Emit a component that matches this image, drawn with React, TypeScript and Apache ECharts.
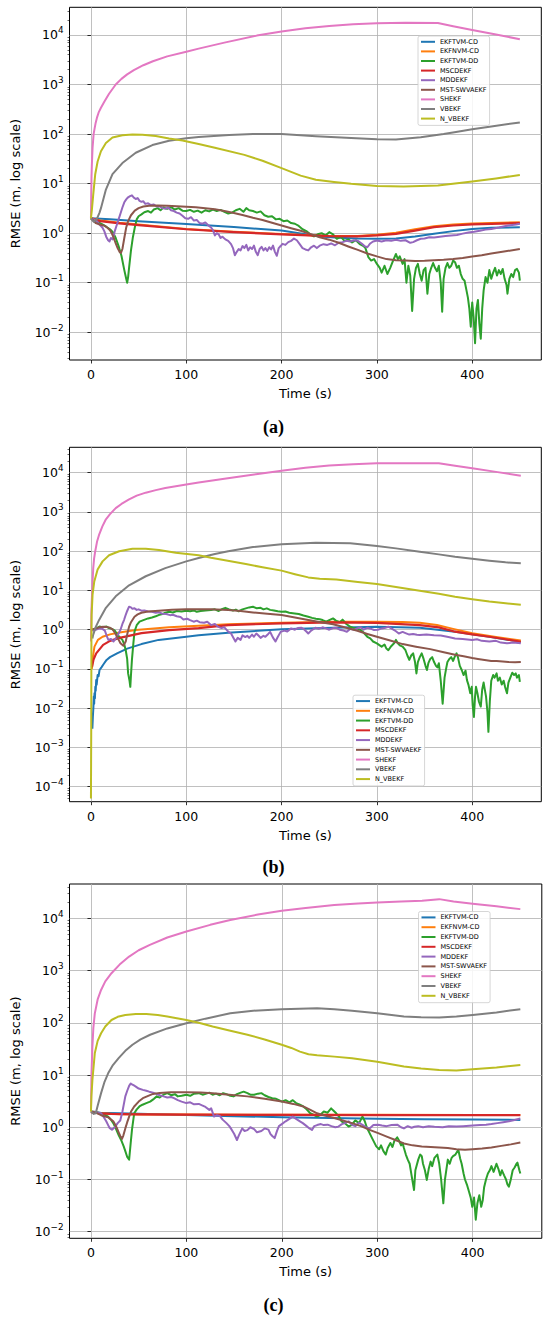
import React, { useEffect, useRef } from 'react';
import * as echarts from 'echarts';

// ---------- names, colours, ticks ----------
const SERIES_NAMES = ['EKFTVM-CD', 'EKFNVM-CD', 'EKFTVM-DD', 'MSCDEKF', 'MDDEKF', 'MST-SWVAEKF', 'SHEKF', 'VBEKF', 'N_VBEKF'];
const SERIES_COLORS = ['#1f77b4', '#ff7f0e', '#2ca02c', '#d62728', '#9467bd', '#8c564b', '#e377c2', '#7f7f7f', '#bcbd22'];
const X_TICKS = [0, 100, 200, 300, 400];
const Y_DECADES_A = [-2, -1, 0, 1, 2, 3, 4];
const Y_DECADES_B = [-4, -3, -2, -1, 0, 1, 2, 3, 4];
const Y_DECADES_C = [-2, -1, 0, 1, 2, 3, 4];
const CAPTIONS = ['(a)', '(b)', '(c)'];

type P = [number, number][];

// ---------- panel (a) ----------
const a_EKFTVM_CD: P = [[0,2.0],[20,1.9],[50,1.75],[100,1.54],[150,1.33],[200,1.13],[220,0.99],[240,0.86],[260,0.81],[280,0.78],[300,0.77],[320,0.78],[340,0.86],[360,0.97],[380,1.1],[400,1.22],[420,1.28],[450,1.32]];
const a_EKFNVM_CD: P = [[0,2.0],[10,1.8],[30,1.62],[50,1.5],[100,1.22],[150,1.07],[200,0.96],[250,0.88],[280,0.88],[300,0.93],[320,1.02],[340,1.2],[360,1.38],[380,1.5],[400,1.57],[420,1.61],[450,1.66]];
const a_EKFTVM_DD: P = [[0,2.0],[4,1.8],[8,1.65],[12,1.5],[16,1.35],[20,1.2],[23,1.05],[26,0.8],[29,0.55],[32,0.35],[35,0.18],[37,0.12],[38,0.1],[39,0.13],[40,0.2],[42,0.45],[44,0.83],[46,1.3],[48,1.9],[50,2.2],[53,2.4],[56,2.65],[60,2.8],[63,2.6],[66,3.0],[70,3.2],[73,2.9],[76,3.3],[80,3.1],[84,3.35],[88,3.0],[92,3.2],[96,2.85],[100,2.8],[104,2.95],[108,2.7],[112,2.85],[116,2.6],[120,2.9],[124,2.75],[128,3.0],[132,2.8],[136,2.95],[140,2.7],[144,2.5],[148,2.6],[152,2.9],[156,3.1],[160,2.7],[163,3.2],[166,2.9],[170,2.8],[174,2.6],[178,2.75],[182,2.3],[186,2.15],[190,2.2],[194,1.9],[198,1.95],[202,1.75],[206,1.8],[210,1.6],[214,1.55],[218,1.4],[222,1.2],[226,1.1],[230,0.95],[234,0.86],[238,0.95],[242,1.0],[246,0.9],[250,1.05],[254,0.95],[258,0.77],[262,0.85],[266,0.7],[270,0.75],[274,0.65],[278,0.72],[282,0.6],[286,0.55],[288,0.5],[291,0.33],[294,0.28],[297,0.3],[300,0.24],[303,0.2],[305,0.16],[308,0.22],[311,0.15],[314,0.2],[317,0.28],[320,0.38],[322,0.3],[324,0.34],[327,0.24],[329,0.3],[331,0.1],[333,0.22],[335,0.14],[337,0.027],[339,0.12],[341,0.2],[343,0.24],[345,0.15],[347,0.11],[349,0.18],[351,0.2],[353,0.06],[355,0.15],[357,0.2],[359,0.25],[361,0.2],[363,0.17],[365,0.22],[367,0.1],[368.5,0.026],[370,0.12],[372,0.2],[374,0.25],[376,0.2],[378,0.22],[380,0.28],[382,0.26],[384,0.2],[386,0.22],[388,0.15],[390,0.12],[392,0.11],[394,0.07],[395.5,0.05],[397,0.03],[398.5,0.013],[400,0.04],[401.5,0.02],[403,0.006],[404.5,0.03],[406,0.045],[407.5,0.015],[409,0.0074],[410.5,0.03],[412,0.07],[414,0.13],[416,0.1],[418,0.18],[420,0.12],[422,0.16],[424,0.2],[426,0.14],[428,0.18],[430,0.15],[432,0.19],[434,0.12],[436,0.09],[437,0.06],[439,0.12],[441,0.15],[443,0.13],[445,0.18],[447,0.19],[449,0.16],[450,0.11]];
const a_MSCDEKF: P = [[0,2.0],[10,1.75],[30,1.58],[50,1.45],[100,1.2],[150,1.05],[200,0.95],[250,0.87],[280,0.86],[300,0.9],[320,0.97],[340,1.13],[360,1.32],[380,1.43],[400,1.5],[420,1.54],[450,1.6]];
const a_MDDEKF: P = [[0,2.0],[3,1.9],[6,1.75],[9,1.5],[12,1.3],[14,1.1],[16,0.85],[18,0.72],[19.5,0.68],[21,0.8],[23,0.75],[25,1.1],[27,1.45],[29,1.9],[31,2.5],[33,3.3],[35,4.2],[37,4.8],[39,5.3],[41,5.6],[43,5.8],[45,5.2],[47,4.9],[49,5.1],[51,4.5],[53,4.3],[55,4.4],[57,3.9],[60,4.0],[63,3.7],[66,3.8],[69,3.45],[72,3.5],[75,3.2],[78,3.1],[81,3.3],[84,2.9],[87,2.8],[90,2.6],[93,2.5],[96,2.25],[99,2.0],[102,1.95],[105,2.1],[108,1.8],[111,1.85],[114,1.6],[117,1.55],[120,1.65],[123,1.45],[126,1.3],[128,1.15],[130,0.9],[132,1.0],[134,0.95],[136,0.8],[138,0.85],[141,0.75],[144,0.7],[147,0.6],[149,0.5],[151,0.36],[153,0.42],[155,0.48],[157,0.45],[159,0.55],[161,0.5],[163,0.58],[165,0.45],[167,0.52],[169,0.48],[171,0.56],[173,0.42],[175,0.36],[177,0.48],[179,0.53],[181,0.45],[183,0.5],[185,0.44],[187,0.52],[189,0.47],[191,0.56],[193,0.42],[195,0.35],[197,0.5],[199,0.55],[201,0.61],[204,0.58],[207,0.66],[210,0.7],[213,0.78],[216,0.72],[219,0.6],[222,0.5],[225,0.47],[228,0.45],[231,0.52],[234,0.56],[237,0.5],[240,0.56],[244,0.6],[248,0.58],[252,0.62],[256,0.57],[260,0.64],[264,0.66],[268,0.7],[272,0.68],[276,0.72],[280,0.7],[284,0.62],[287,0.55],[290,0.52],[293,0.62],[296,0.68],[300,0.71],[305,0.68],[310,0.72],[315,0.7],[320,0.74],[325,0.7],[330,0.72],[335,0.64],[338,0.66],[342,0.72],[346,0.77],[350,0.78],[355,0.83],[360,0.82],[366,0.85],[372,0.88],[378,0.9],[384,0.92],[390,0.98],[396,1.03],[402,1.07],[408,1.12],[414,1.18],[420,1.22],[428,1.3],[434,1.38],[440,1.45],[446,1.5],[450,1.55]];
const a_MST_SWVAEKF: P = [[0,2.0],[5,1.6],[10,1.48],[14,1.42],[17,1.3],[20,1.15],[22,0.98],[24,0.8],[26,0.62],[28,0.5],[30,0.42],[31.5,0.4],[33,0.48],[35,0.8],[37,1.3],[39,1.75],[42,2.3],[46,2.85],[50,3.2],[55,3.45],[61,3.56],[70,3.6],[80,3.58],[90,3.5],[100,3.42],[110,3.33],[120,3.2],[130,3.05],[140,2.8],[150,2.55],[160,2.3],[170,2.05],[180,1.85],[190,1.62],[200,1.43],[210,1.26],[220,1.12],[230,0.97],[240,0.83],[250,0.74],[260,0.64],[270,0.54],[280,0.46],[290,0.39],[300,0.34],[310,0.3],[320,0.285],[330,0.28],[340,0.275],[350,0.277],[360,0.285],[370,0.29],[380,0.3],[390,0.315],[400,0.34],[410,0.36],[420,0.39],[435,0.43],[450,0.48]];
const a_SHEKF: P = [[0,2],[0.3,6],[0.6,14],[1,25],[1.7,53],[2.8,100],[4,135],[5,170],[6.5,220],[8,270],[10.5,340],[14,450],[19,650],[26,1000],[32,1300],[38,1600],[45,1950],[55,2450],[65,2950],[80,3700],[100,4600],[113,5300],[140,7000],[174,9700],[200,11800],[225,13600],[250,15200],[275,16400],[300,17200],[330,17600],[364,17400],[380,15000],[400,12600],[425,10200],[450,8200]];
const a_VBEKF: P = [[0,2.0],[3,1.7],[6,1.9],[9,2.6],[10.5,3.2],[15.7,7.6],[22.6,15.5],[33,26],[47,42],[64.5,60],[82,73],[100,82],[113,87],[145,96],[170,100],[200,100],[236,90],[273,83],[300,79],[320,78],[346,86],[370,100],[383,110],[400,125],[420,142],[450,172]];
const a_N_VBEKF: P = [[0,2],[1,3],[2.4,6],[4.5,15.5],[7,28],[10.5,45],[15.7,66],[22.6,85],[33,95],[43.5,98],[54,97],[68,91],[82,81],[96,74],[113,63],[130,53],[161,38],[180,29],[200,20.5],[220,14.5],[236,12],[255,10.8],[273,9.9],[300,9.0],[328,8.7],[364,9.2],[400,11],[425,12.7],[450,15]];

// ---------- panel (b) ----------
const b_EKFTVM_CD: P = [[1.5,0.003],[2,0.006],[2.6,0.011],[3,0.02],[3.4,0.013],[3.7,0.024],[4.2,0.018],[4.6,0.035],[5,0.028],[5.5,0.052],[6,0.04],[7,0.07],[8,0.065],[9,0.094],[11,0.11],[13,0.13],[16.4,0.17],[20,0.2],[27.4,0.25],[38,0.33],[53,0.43],[71,0.55],[100,0.66],[113,0.72],[144,0.84],[200,1.02],[254,1.12],[300,1.19],[345,1.12],[382,0.89],[418,0.66],[451,0.49]];
const b_EKFNVM_CD: P = [[1,0.1],[2,0.2],[3.7,0.37],[7.3,0.55],[12.2,0.66],[20,0.76],[30,0.85],[47,0.98],[82,1.15],[113,1.26],[144,1.37],[200,1.5],[254,1.6],[300,1.6],[327,1.58],[345,1.5],[363,1.31],[380,1.05],[400,0.81],[425,0.65],[451,0.53]];
const b_EKFTVM_DD: P = [[2,1.0],[3.7,1.05],[6,1.1],[9,1.2],[12,1.15],[16.4,1.2],[19,1.1],[22,1.05],[25,0.95],[27,0.8],[30,0.65],[33,0.55],[35,0.42],[36.5,0.3],[38,0.18],[39,0.077],[40.5,0.05],[41.3,0.035],[42,0.07],[43,0.17],[44.5,0.45],[45.7,0.89],[48,1.3],[51,1.6],[55,1.75],[60,1.94],[64,2.05],[68,2.2],[71,2.36],[75,2.5],[78,2.7],[82,2.87],[86,2.75],[90,3.0],[95,2.9],[100,3.05],[104,2.95],[108,3.1],[111,2.85],[115,3.0],[120,3.1],[126,3.17],[130,3.3],[134,3.0],[138,3.4],[141,3.6],[145,3.3],[149,3.1],[152,3.25],[155,2.95],[159,3.3],[162.5,3.5],[166,3.7],[170,3.85],[174,3.5],[178,3.6],[181,3.3],[184.5,3.5],[188,3.2],[192,3.1],[196,2.95],[200,2.87],[204,2.9],[208,2.7],[213.7,2.6],[218,2.5],[223,2.3],[228,2.14],[232,2.0],[236,1.9],[240,1.85],[243,1.76],[247,1.6],[250,1.75],[254,1.94],[257,1.7],[261,1.55],[264,1.8],[268,1.4],[272,1.19],[276,1.1],[280,1.05],[283,0.98],[286,0.85],[290,0.66],[293,0.6],[296,0.5],[300,0.45],[303,0.4],[305,0.37],[308,0.42],[310,0.33],[312,0.3],[315,0.38],[318,0.45],[320,0.55],[322,0.45],[324,0.4],[327,0.37],[330,0.3],[332,0.22],[334,0.17],[336,0.22],[338,0.25],[340,0.15],[341.5,0.077],[343,0.15],[345,0.2],[347,0.25],[349,0.18],[351,0.12],[352.5,0.094],[354,0.14],[356,0.18],[358,0.2],[360,0.15],[362,0.12],[363.5,0.11],[365,0.14],[367,0.05],[369,0.013],[371,0.06],[372.6,0.1],[374,0.15],[376,0.18],[378,0.2],[380,0.16],[381.5,0.2],[383.6,0.25],[385,0.2],[387,0.12],[389,0.094],[391,0.07],[393,0.09],[394.5,0.052],[396,0.04],[398,0.024],[399.5,0.035],[400.5,0.012],[401.8,0.006],[403,0.02],[404,0.035],[405.5,0.024],[407,0.015],[409,0.011],[410.5,0.03],[412,0.045],[413,0.032],[414.5,0.02],[416,0.008],[417,0.0025],[418.5,0.015],[420,0.05],[422,0.07],[423.5,0.06],[425.6,0.077],[427,0.05],[429,0.06],[431,0.04],[433,0.05],[434.5,0.035],[436.5,0.024],[438,0.045],[440,0.06],[442,0.08],[444,0.07],[445.7,0.077],[447,0.06],[449,0.07],[450,0.047]];
const b_MSCDEKF: P = [[1,0.11],[2.6,0.17],[5.5,0.25],[12.8,0.41],[20,0.52],[30,0.62],[53,0.82],[82,0.98],[113,1.1],[144,1.31],[200,1.45],[254,1.54],[300,1.5],[345,1.31],[365,1.15],[382,0.89],[400,0.76],[418,0.66],[435,0.57],[451,0.49]];
const b_MDDEKF: P = [[0,1.0],[2.6,0.95],[5,1.0],[9,1.08],[12,1.05],[14.6,0.95],[16.5,0.7],[18.3,0.55],[21,0.58],[23.7,0.5],[26,0.6],[29,0.8],[31,1.0],[33,1.4],[34.7,1.76],[36.5,2.4],[38,3.0],[40,3.86],[42,3.7],[43.5,3.4],[45.7,3.5],[48,3.2],[50,3.3],[53,3.05],[56,3.1],[60,2.9],[64,2.87],[68,2.7],[71,2.8],[75,2.55],[79,2.5],[83,2.35],[86,2.4],[90,2.2],[94,2.1],[97,1.83],[101,1.9],[104,1.75],[107.8,1.6],[111,1.7],[114,1.55],[118.7,1.5],[122,1.6],[126,1.31],[130,1.4],[133,1.2],[137,1.1],[140,1.15],[144,0.89],[147,0.8],[149,0.65],[151.6,0.5],[154,0.62],[157,0.55],[159,0.72],[162,0.65],[164,0.7],[166,0.62],[169,0.75],[171,0.66],[173.5,0.8],[176,0.7],[178,0.62],[181,0.7],[183,0.66],[186,0.78],[188,0.88],[190,0.7],[191.5,0.6],[193.6,0.5],[196,0.65],[199,0.88],[203,0.95],[206,0.9],[210,1.08],[214,1.0],[217,1.1],[221,1.12],[224,1.0],[226,0.9],[228,0.8],[231,0.95],[235.6,1.12],[239,1.05],[243,1.15],[246.6,1.08],[250,1.0],[254,1.1],[257.5,1.12],[261,1.0],[265,0.95],[268.5,0.89],[272,1.05],[276,1.0],[279.5,1.08],[283,1.15],[286,1.0],[290,1.12],[294,1.05],[297,0.98],[301,1.0],[305,1.08],[308,1.1],[312,1.19],[316,1.05],[319,0.95],[323,0.8],[327,0.88],[330,0.82],[334,0.75],[338,0.78],[342,0.74],[345,0.73],[352,0.75],[360,0.72],[367,0.71],[375,0.65],[382,0.6],[390,0.58],[400,0.55],[405,0.57],[410,0.52],[418,0.5],[425,0.52],[430,0.47],[436.5,0.45],[443,0.47],[451,0.45]];
const b_MST_SWVAEKF: P = [[0,1.0],[3,1.05],[5.5,1.08],[9,1.15],[12.8,1.19],[16,1.18],[20,1.12],[23,1.0],[25.6,0.8],[28,0.62],[31,0.45],[34,0.39],[36.5,0.5],[38,0.75],[40,1.19],[42,1.55],[45.7,2.14],[49,2.45],[53,2.7],[60,2.9],[71,3.05],[85,3.2],[100,3.3],[126,3.3],[144,3.17],[157,3.0],[170,2.76],[185,2.55],[200,2.36],[214,2.05],[228,1.76],[241,1.55],[254,1.37],[266,1.15],[279.5,0.94],[290,0.78],[300,0.66],[313,0.54],[327,0.43],[341,0.37],[356,0.32],[369,0.27],[382,0.23],[391,0.21],[400,0.19],[406,0.18],[413,0.17],[420,0.16],[425.6,0.16],[432,0.155],[438,0.15],[445,0.148],[451,0.15]];
const b_SHEKF: P = [[0,0.5],[0.5,3],[1,6.5],[1.6,15],[2.4,37],[3.3,65],[4.5,100],[6.5,180],[8.7,270],[12,430],[15.7,650],[20,880],[26,1250],[32,1600],[40,2080],[48,2600],[57.5,3100],[68,3600],[78,4050],[100,5000],[113,5600],[140,7000],[162,8400],[175,9300],[200,11200],[225,13300],[250,15200],[275,16500],[300,17300],[330,17500],[365,17400],[382,15000],[400,13000],[425,10500],[451,8400]];
const b_VBEKF: P = [[1.5,0.6],[2.4,0.75],[5.2,1.2],[8.7,1.8],[15.7,3.6],[26,7.1],[40,13.5],[57.5,23],[78,37],[100,55],[113,67],[130,85],[144,100],[170,128],[200,150],[236,163],[272,160],[300,135],[320,118],[345,97],[365,83],[382,72],[400,64],[418,57],[435,52],[451,49]];
const b_N_VBEKF: P = [[0,0.00005],[0.3,0.003],[0.5,0.5],[0.7,2.4],[1.7,7.8],[3.5,17],[7,34],[12.2,55],[19,79],[29.6,100],[43.5,115],[57.5,115],[71.4,107],[89,91],[113,79],[126,68],[145,56],[162.5,47],[180,39],[200,32],[214,26],[228,21.5],[240,20],[257.5,19],[280,16.5],[300,14.6],[320,12.3],[345,9.8],[365,8.2],[382,6.9],[400,6.0],[418,5.2],[435,4.7],[451,4.3]];

// ---------- panel (c) ----------
const c_EKFTVM_CD: P = [[0,1.95],[10,1.9],[50,1.82],[100,1.72],[150,1.63],[200,1.56],[250,1.5],[300,1.46],[350,1.43],[400,1.4],[450,1.38]];
const c_EKFNVM_CD: P = [[0,1.95],[10,1.85],[30,1.78],[60,1.76],[100,1.75],[200,1.74],[300,1.73],[400,1.72],[450,1.72]];
const c_EKFTVM_DD: P = [[0,2.0],[5,1.95],[10.6,1.85],[14,1.75],[18,1.6],[21,1.4],[23.4,1.2],[26,0.95],[29,0.71],[32,0.55],[34.3,0.43],[36,0.35],[38,0.27],[40,0.24],[41.6,0.49],[43,0.9],[45.3,1.85],[48,2.2],[50.8,2.5],[54,2.7],[58,2.9],[62,3.1],[66,3.5],[69,3.9],[72,3.7],[76,4.2],[80,4.5],[84,4.1],[88,4.3],[91,3.9],[95,4.0],[100,4.2],[104,4.0],[108,4.4],[113,4.5],[117,4.2],[121,4.4],[124,4.6],[127.5,4.2],[131,4.4],[135,4.1],[138.5,4.5],[142,4.3],[146,4.0],[149.4,3.9],[153,4.3],[157,4.6],[160,4.8],[164,4.5],[167,4.2],[171,4.2],[175,4.4],[178.6,4.5],[182,4.1],[186,3.8],[190,3.6],[194,3.5],[197,3.3],[200,3.1],[204,3.3],[208,3.0],[211.5,3.3],[215,2.9],[219,2.7],[222.5,2.5],[226,2.2],[229.8,1.85],[233,1.75],[237,1.6],[240,1.7],[244,2.0],[248,1.9],[251.7,2.3],[254,2.1],[257,1.85],[260,1.6],[262.6,1.3],[266,1.2],[270,1.03],[273,1.1],[277,1.35],[281,1.2],[284.6,1.6],[287,1.3],[289,1.0],[292,0.77],[295,0.6],[299,0.43],[302,0.38],[304,0.45],[306.5,0.35],[309,0.3],[311,0.4],[313.8,0.5],[316,0.42],[318,0.55],[321,0.64],[323,0.55],[325,0.45],[326.6,0.5],[328,0.4],[330,0.3],[332,0.24],[334,0.2],[336,0.12],[338.6,0.063],[340,0.15],[343,0.24],[345,0.3],[346.7,0.28],[348,0.2],[350,0.15],[352,0.098],[354,0.16],[356,0.22],[357.6,0.18],[360,0.26],[363,0.3],[365,0.2],[367,0.1],[369.3,0.035],[371,0.1],[374,0.24],[376,0.2],[378,0.26],[379.5,0.28],[382,0.3],[385,0.37],[387,0.25],[388.5,0.2],[390.5,0.13],[392,0.1],[394,0.08],[396,0.06],[398,0.045],[399.6,0.03],[401.5,0.045],[403.3,0.017],[405,0.035],[407,0.05],[409,0.03],[410.6,0.04],[412,0.07],[414,0.1],[416,0.13],[418,0.15],[419.7,0.18],[422,0.14],[425,0.2],[427,0.16],[429,0.12],[430.7,0.15],[433,0.12],[435,0.1],[436.5,0.08],[438,0.073],[440,0.1],[442,0.15],[444,0.17],[446,0.2],[447,0.21],[449,0.15],[450,0.13]];
const c_MSCDEKF: P = [[0,1.95],[10,1.85],[20,1.8],[50,1.76],[100,1.74],[200,1.72],[300,1.71],[400,1.7],[450,1.7]];
const c_MDDEKF: P = [[0,2.0],[5,1.95],[10.6,1.85],[13,1.6],[16,1.3],[18,1.1],[19.7,0.96],[22,0.9],[25,1.0],[28,1.2],[30.7,1.35],[33,2.0],[36,3.9],[38,5.0],[40,6.2],[41.6,6.9],[43,6.6],[45,6.3],[47,6.0],[50,5.5],[54.4,5.2],[58,5.0],[61,4.8],[65,4.6],[68,4.4],[72,4.1],[76,3.9],[80,3.7],[84,3.8],[87,3.6],[91,3.3],[95,3.1],[100,2.9],[104,3.0],[108,2.75],[113,2.8],[117,2.6],[120,2.45],[124,2.15],[126,2.3],[129,1.6],[132,1.7],[135,1.65],[138,1.4],[142,1.2],[145,1.05],[147.6,0.89],[150,0.75],[153,0.57],[155,0.7],[158.5,0.95],[161,0.85],[164,0.88],[167,1.0],[171,0.92],[174,0.8],[178.6,0.85],[182,0.95],[186,0.9],[188,0.75],[190,0.68],[192.5,0.62],[195,0.85],[197,1.05],[200,1.15],[204,1.3],[208,1.45],[211.5,1.6],[215,1.45],[219,1.3],[222,1.2],[226,1.05],[229,0.95],[231.6,0.89],[234,1.05],[237,1.1],[241,1.15],[244,1.1],[248,1.12],[252,1.05],[256,1.0],[259,1.02],[263,1.15],[266,1.2],[270,1.3],[274,1.1],[277,1.05],[281,1.22],[285,1.1],[288,1.0],[292,0.95],[296,1.1],[301,1.12],[305,1.08],[310,1.05],[315,1.1],[321,1.12],[325,1.0],[328,0.95],[332,1.05],[336,0.98],[339,1.02],[343,1.05],[348,1.0],[354,1.04],[360,1.02],[368.6,1.0],[375,1.05],[383,1.03],[390,1.05],[400,1.08],[408,1.1],[414,1.12],[419.7,1.15],[426,1.2],[432,1.25],[438,1.3],[444,1.38],[450,1.48]];
const c_MST_SWVAEKF: P = [[0,2.0],[5,1.9],[10.6,1.7],[14,1.62],[18,1.55],[21,1.4],[23.4,1.3],[25,1.15],[27,0.98],[29,0.8],[30.7,0.68],[32.5,0.6],[34,0.7],[36,0.95],[38,1.25],[40,1.6],[42,2.0],[45.3,2.5],[50,3.1],[54.4,3.6],[60,4.0],[65,4.35],[72,4.55],[83.6,4.7],[100,4.7],[115,4.65],[127.5,4.5],[145,4.2],[164,3.9],[182,3.5],[200,3.1],[212,2.8],[222.5,2.5],[230,2.15],[237,1.85],[246,1.65],[255,1.5],[264,1.35],[273.6,1.2],[283,1.05],[292,0.89],[301,0.77],[310,0.66],[319,0.57],[328,0.49],[337,0.45],[346.7,0.43],[356,0.42],[365,0.41],[374,0.4],[383,0.38],[392,0.37],[400,0.38],[410,0.39],[419.7,0.41],[430,0.44],[440,0.47],[450,0.51]];
const c_SHEKF: P = [[0,2],[0.5,10],[1.5,35],[2.5,80],[4,150],[7,280],[10.6,425],[15,620],[21.5,890],[30,1300],[40,1850],[50,2450],[61.7,3100],[80,4300],[100,5600],[125,7500],[146,9300],[175,11800],[200,14000],[225,15800],[255,18000],[280,19200],[300,20000],[325,21000],[347,21800],[365,23300],[380,21000],[400,19000],[425,17000],[450,15000]];
const c_VBEKF: P = [[0,2.0],[3,1.8],[5,1.85],[7.5,2.8],[10.6,4.5],[14,7.2],[18,10.8],[23,15.5],[29,21],[36,29],[43.5,38],[52,48],[62,59],[80,78],[100,98],[120,120],[146,152],[170,170],[200,182],[237,190],[255,182],[273.6,170],[300,152],[328,132],[346,127],[365,126],[383,132],[400,141],[425,158],[450,182]];
const c_N_VBEKF: P = [[0,2],[0.5,4],[1.5,8],[4,26],[7,45],[10.6,63],[15,85],[21.5,113],[28,130],[36,141],[47,147],[58,148],[70,141],[80,132],[100,113],[115,98],[127.5,85],[145,71],[164,59],[182,48],[200,38],[210,33],[219,28],[228,25],[237,24],[255,22.5],[273.6,21],[300,18],[328,14.5],[346,13.3],[365,12.5],[383,12.2],[400,12.9],[425,14],[450,15.6]];

const PANEL_DATA: P[][] = [
  [a_EKFTVM_CD, a_EKFNVM_CD, a_EKFTVM_DD, a_MSCDEKF, a_MDDEKF, a_MST_SWVAEKF, a_SHEKF, a_VBEKF, a_N_VBEKF],
  [b_EKFTVM_CD, b_EKFNVM_CD, b_EKFTVM_DD, b_MSCDEKF, b_MDDEKF, b_MST_SWVAEKF, b_SHEKF, b_VBEKF, b_N_VBEKF],
  [c_EKFTVM_CD, c_EKFNVM_CD, c_EKFTVM_DD, c_MSCDEKF, c_MDDEKF, c_MST_SWVAEKF, c_SHEKF, c_VBEKF, c_N_VBEKF],
];
const PANEL_DECADES = [Y_DECADES_A, Y_DECADES_B, Y_DECADES_C];

// ---------- layout (positions / styles) ----------
const LAYOUT = [
  { left: 68.3, top: 7.3, width: 473, height: 352.7, yExp: [-2.559, 4.558], legLeft: 418, legTop: 36, legLH: 9.6, capY: 426.7 },
  { left: 68.3, top: 447.3, width: 473, height: 354.4, yExp: [-4.382, 4.647], legLeft: 353, legTop: 695.2, legLH: 9.75, capY: 866.7 },
  { left: 66.8, top: 884, width: 475, height: 354.3, yExp: [-2.126, 4.657], legLeft: 418.5, legTop: 911.5, legLH: 9.8, capY: 1305 },
];
const FONT = '"DejaVu Sans", sans-serif';
const GRID_COLOR = '#b0b0b0';
const TICK_FS = 12.5;
const NAME_FS = 13;

function supLabel(v: number) {
  const n = Math.round(Math.log10(v));
  return '{b|10}{s|' + (n < 0 ? '\u2212' + String(-n) : String(n)) + '}';
}

function minorValues(lo: number, hi: number) {
  const out: number[] = [];
  for (let n = Math.floor(lo); n <= Math.ceil(hi); n++) {
    for (let k = 2; k <= 9; k++) {
      const v = k * Math.pow(10, n);
      const lv = Math.log10(v);
      if (lv > lo && lv < hi) out.push(v);
    }
  }
  return out;
}

function buildOption() {
  const grid: any[] = [];
  const xAxis: any[] = [];
  const yAxis: any[] = [];
  const series: any[] = [];
  const legend: any[] = [];
  const graphic: any[] = [];

  LAYOUT.forEach((L, i) => {
    const yMin = Math.pow(10, L.yExp[0]);
    const yMax = Math.pow(10, L.yExp[1]);
    const decades = PANEL_DECADES[i].map((n) => Math.pow(10, n));
    grid.push({ left: L.left, top: L.top, width: L.width, height: L.height, show: true, borderColor: '#000', borderWidth: 1, backgroundColor: 'transparent', containLabel: false });
    xAxis.push({
      type: 'value', gridIndex: i, min: -22.5, max: 472.5,
      axisLine: { show: false },
      axisTick: { show: true, inside: false, length: 3.5, lineStyle: { color: '#000', width: 0.8 }, customValues: X_TICKS },
      axisLabel: { customValues: X_TICKS, fontSize: TICK_FS, color: '#000', fontFamily: FONT, margin: 7.5, lineHeight: 14 },
      splitLine: { show: true, lineStyle: { color: GRID_COLOR, width: 0.8 } },
      name: 'Time (s)', nameLocation: 'middle', nameGap: 26.3,
      nameTextStyle: { fontSize: NAME_FS, color: '#000', fontFamily: FONT, lineHeight: 14 },
    });
    yAxis.push({
      type: 'log', logBase: 10, gridIndex: i, min: yMin, max: yMax,
      axisLine: { show: false },
      axisTick: { show: true, inside: false, length: 3.5, lineStyle: { color: '#000', width: 0.8 }, customValues: decades },
      axisLabel: {
        customValues: decades, margin: 6, formatter: (v: number) => supLabel(v),
        rich: {
          b: { fontSize: TICK_FS, fontFamily: FONT, color: '#000', lineHeight: 18 },
          s: { fontSize: 8.8, fontFamily: FONT, color: '#000', lineHeight: 10, verticalAlign: 'top' },
        },
      },
      splitLine: { show: true, lineStyle: { color: GRID_COLOR, width: 0.8 } },
      name: 'RMSE (m, log scale)', nameLocation: 'middle', nameGap: 46.5, nameRotate: 90,
      nameTextStyle: { fontSize: NAME_FS, color: '#000', fontFamily: FONT, lineHeight: 15 },
    });
    yAxis.push({
      type: 'log', logBase: 10, gridIndex: i, min: yMin, max: yMax, position: 'left',
      axisLine: { show: false }, axisLabel: { show: false }, splitLine: { show: false },
      axisTick: { show: true, inside: false, length: 2, lineStyle: { color: '#000', width: 0.6 }, customValues: minorValues(L.yExp[0], L.yExp[1]) },
    });
    PANEL_DATA[i].forEach((pts, k) => {
      series.push({
        type: 'line', name: SERIES_NAMES[k], xAxisIndex: i, yAxisIndex: 2 * i,
        data: pts, showSymbol: false, symbol: 'none', silent: true,
        color: SERIES_COLORS[k],
        lineStyle: { color: SERIES_COLORS[k], width: k === 3 ? 2.2 : 2, join: 'round' },
        emphasis: { disabled: true },
      });
    });
    legend.push({
      orient: 'vertical', left: L.legLeft, top: L.legTop, data: SERIES_NAMES,
      icon: 'rect', itemWidth: 14, itemHeight: 2, itemGap: 0, selectedMode: false,
      textStyle: { fontSize: 6.5, fontFamily: FONT, color: '#000', lineHeight: L.legLH },
      backgroundColor: 'rgba(255,255,255,0.85)', borderColor: '#cccccc', borderWidth: 0.8, borderRadius: 2,
      padding: [1, 3, 2, 3],
    });
    graphic.push({
      type: 'text', x: 273.5, y: L.capY,
      style: { text: CAPTIONS[i], font: 'bold 18px "Liberation Serif", serif', fill: '#000', textAlign: 'center', textVerticalAlign: 'middle', align: 'center', verticalAlign: 'middle' },
    });
  });

  return { animation: false, backgroundColor: '#ffffff', grid, xAxis, yAxis, series, legend, graphic };
}

export default function App() {
  const ref = useRef<HTMLDivElement>(null);
  useEffect(() => {
    if (!ref.current) return;
    const chart = echarts.init(ref.current, null, { renderer: 'svg' });
    chart.setOption(buildOption() as any);
    return () => chart.dispose();
  }, []);
  return <div ref={ref} style={{ position: 'absolute', left: 0, top: 0, width: 550, height: 1320, background: '#fff' }} />;
}
